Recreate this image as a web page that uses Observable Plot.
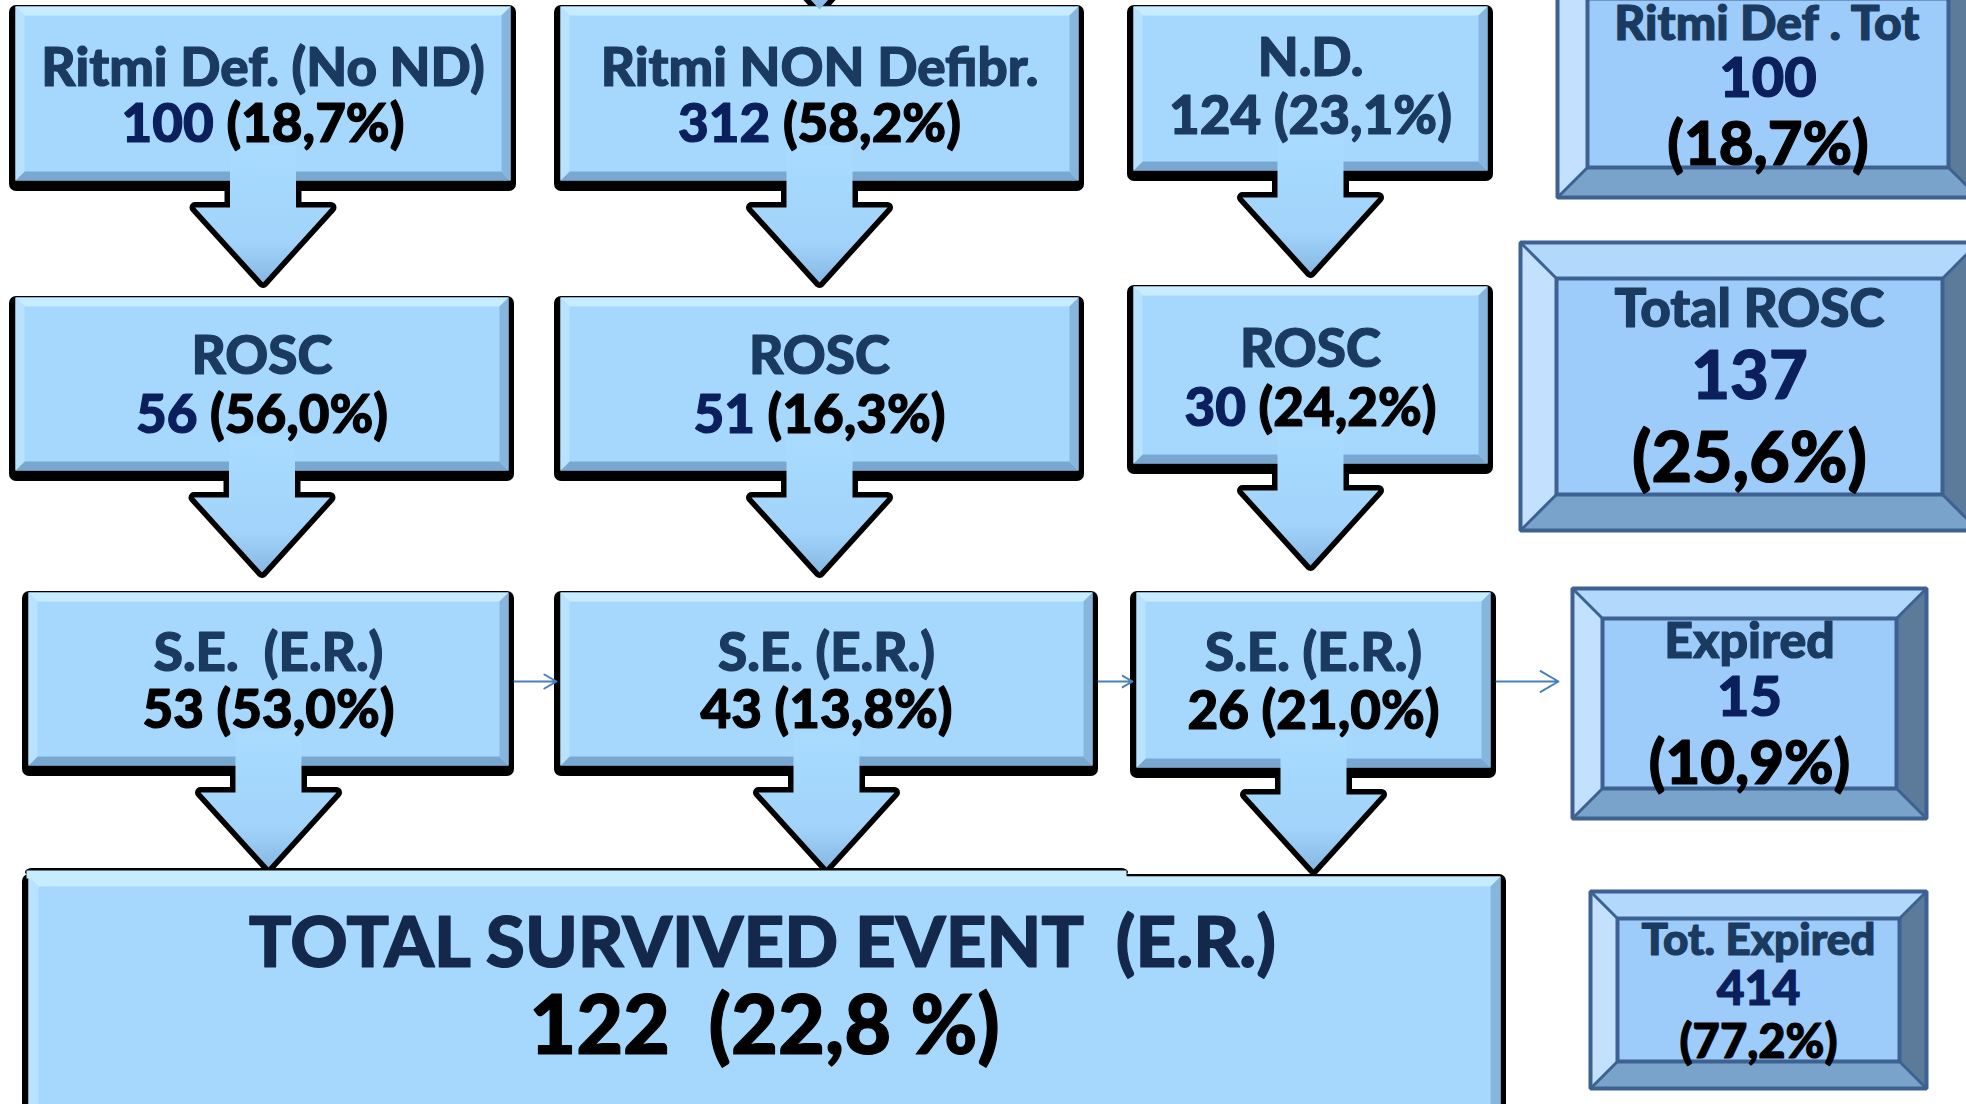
<!DOCTYPE html>
<html><head><meta charset="utf-8">
<script src="https://cdn.jsdelivr.net/npm/d3@7"></script>
<script src="https://cdn.jsdelivr.net/npm/@observablehq/plot@0.6"></script>
<style>html,body{margin:0;padding:0;background:#fff;overflow:hidden}</style>
</head><body><div id="chart"></div>
<script>
// ---------------- DATA ----------------
const groupLabels = ["Ritmi Def. (No ND)", "Ritmi NON Defibr.", "N.D."];
const groupCounts = [100, 312, 124];
const groupPcts = ["(18,7%)", "(58,2%)", "(23,1%)"];
const roscLabels = ["ROSC", "ROSC", "ROSC"];
const roscCounts = [56, 51, 30];
const roscPcts = ["(56,0%)", "(16,3%)", "(24,2%)"];
const seLabels = ["S.E.  (E.R.)", "S.E. (E.R.)", "S.E. (E.R.)"];
const seCounts = [53, 43, 26];
const sePcts = ["(53,0%)", "(13,8%)", "(21,0%)"];
const summaryLabels = ["Ritmi Def . Tot", "Total ROSC", "Expired", "Tot. Expired"];
const summaryCounts = [100, 137, 15, 414];
const summaryPcts = ["(18,7%)", "(25,6%)", "(10,9%)", "(77,2%)"];
const totalLabel = "TOTAL SURVIVED EVENT  (E.R.)";
const totalCount = 122;
const totalPct = "(22,8 %)";

// ---------------- LAYOUT & STYLE ----------------
const W = 1966, H = 1104;
const FONT = "Lato";
const WEIGHT = 900;
const LABEL = "#1b3a60", NUM = "#0a1f5c", BLACK = "#000000";
const boxLayout = [ // [x1, x2, y1, y2] light face of each flow box, rows x columns
  [[15, 510, 6, 180], [560, 1078, 6, 180], [1133, 1487, 6, 170]],
  [[15, 508, 297, 470], [560, 1078, 297, 470], [1133, 1487, 286, 463]],
  [[28, 508, 592, 765], [560, 1092, 592, 765], [1136, 1490, 592, 767]]
];
const totalLayout = [28, 1500, 876, 1130];
const summaryLayout = [ // [x1, x2, y1, y2, bevel]
  [1557, 1978, -32, 197, 30],
  [1520, 1978, 242, 530, 36],
  [1572, 1926, 588, 818, 30],
  [1590, 1926, 891, 1088, 27]
];
const lineY = { // vertical centers of text lines
  flow: [[[69, 125], [69, 125], [59, 117]], [[357, 416], [357, 416], [350, 409]], [[654, 711], [654, 711], [654, 712]]],
  summary: [[24, 79, 145], [310, 377, 459], [641, 698, 764], [940, 989, 1042]],
  total: [944, 1028]
};
const sizes = {flow: 53, summary: [[48, 56, 60], [53, 67, 70], [50, 56, 60], [44, 48, 47]], total: [71, 81]};

// ---------------- helpers ----------------
const ctx = document.createElement("canvas").getContext("2d");
function measure(s, size) { ctx.font = `${WEIGHT} ${size}px ${FONT}`; return ctx.measureText(s).width; }
const texts = [];
function addLine(parts, cx, cy, size) {
  const gap = measure(" ", size);
  const widths = parts.map(p => measure(p.t, size));
  const total = d3.sum(widths) + d3.sum(parts.slice(1), p => (p.gap ?? 1) * gap);
  let x = cx - total / 2;
  parts.forEach((p, i) => {
    if (i > 0) x += (p.gap ?? 1) * gap;
    texts.push({text: p.t, x, y: cy, size, color: p.c});
    x += widths[i];
  });
}

const polys = []; // {id, x, y, color}
function poly(id, pts, color) { pts.forEach(([x, y]) => polys.push({id, x, y, color})); }
function bevel(id, x1, x2, y1, y2, b, cols) {
  poly(id + "c", [[x1, y1], [x2, y1], [x2, y2], [x1, y2]], cols.c);
  poly(id + "t", [[x1, y1], [x2, y1], [x2 - b, y1 + b], [x1 + b, y1 + b]], cols.t);
  poly(id + "b", [[x1, y2], [x2, y2], [x2 - b, y2 - b], [x1 + b, y2 - b]], cols.b);
  poly(id + "l", [[x1, y1], [x1 + b, y1 + b], [x1 + b, y2 - b], [x1, y2]], cols.l);
  poly(id + "r", [[x2, y1], [x2 - b, y1 + b], [x2 - b, y2 - b], [x2, y2]], cols.r);
}
const flowCols = {c: "#a6d8fd", t: "#c8ecff", b: "#78a8d2", l: "#b9e2fe", r: "#86b6de"};
const sumCols = {c: "#9dccfa", t: "#b2d8fc", b: "#7aa3cb", l: "#c3e1fe", r: "#5c7b9b"};

// flow boxes
const shadows = [];
const flowLabels = [groupLabels, roscLabels, seLabels];
const flowCounts = [groupCounts, roscCounts, seCounts];
const flowPcts = [groupPcts, roscPcts, sePcts];
boxLayout.forEach((row, r) => row.forEach(([x1, x2, y1, y2], c) => {
  shadows.push({x1: x1 - 6, x2: x2 + 6, y1: y1 - 1, y2: y2 + 11});
  bevel(`f${r}${c}`, x1, x2, y1, y2, 9, flowCols);
  const cx = (x1 + x2) / 2;
  const [ly1, ly2] = lineY.flow[r][c];
  addLine([{t: flowLabels[r][c], c: LABEL}], cx, ly1, sizes.flow);
  const numColor = r === 2 ? BLACK : (r === 0 && c === 2 ? LABEL : NUM);
  const pctColor = r === 0 && c === 2 ? LABEL : BLACK;
  addLine([{t: String(flowCounts[r][c]), c: numColor}, {t: flowPcts[r][c], c: pctColor}], cx, ly2, sizes.flow);
}));
{
  const [x1, x2, y1, y2] = totalLayout;
  shadows.push({x1: x1 - 6, x2: x2 + 6, y1: y1 - 2, y2: y2 + 11});
  shadows.push({x1: x1 - 3, x2: 1128, y1: y1 - 8, y2: y1});
  bevel("tot", x1, x2, y1, y2, 10, flowCols);
  poly("totstrip", [[x1 - 2, y1 - 6], [1126, y1 - 6], [1126, y1 + 2], [x1 - 2, y1 + 2]], "#c8ecff");
  const cx = (x1 + x2) / 2;
  addLine([{t: totalLabel, c: "#13284a"}], cx, lineY.total[0], sizes.total[0]);
  addLine([{t: String(totalCount), c: BLACK}, {t: totalPct, c: BLACK, gap: 2}], cx, lineY.total[1], sizes.total[1]);
}
// summary (bevelled) boxes
const frames = [];
summaryLayout.forEach(([x1, x2, y1, y2, b], i) => {
  bevel(`s${i}`, x1, x2, y1, y2, b, sumCols);
  frames.push({x1, x2, y1, y2, id: "o" + i});
  frames.push({x1: x1 + b, x2: x2 - b, y1: y1 + b, y2: y2 - b, id: "i" + i});
  const cx = (x1 + x2) / 2;
  const [a, bb, cc] = lineY.summary[i];
  addLine([{t: summaryLabels[i], c: LABEL}], cx, a, sizes.summary[i][0]);
  addLine([{t: String(summaryCounts[i]), c: NUM}], cx, bb, sizes.summary[i][1]);
  addLine([{t: summaryPcts[i], c: BLACK}], cx, cc, sizes.summary[i][2]);
});
const frameLines = [];
frames.forEach(f => frameLines.push(
  {id: f.id, x: f.x1, y: f.y1}, {id: f.id, x: f.x2, y: f.y1}, {id: f.id, x: f.x2, y: f.y2}, {id: f.id, x: f.x1, y: f.y2}));
const diag = [];
summaryLayout.forEach(([x1, x2, y1, y2, b]) => {
  [[x1, y1, 1, 1], [x2, y1, -1, 1], [x2, y2, -1, -1], [x1, y2, 1, -1]].forEach(([x, y, sx, sy]) =>
    diag.push({x1: x, y1: y, x2: x + sx * b, y2: y + sy * b}));
});

// block arrows: from each flow box down to the next
const arrowPts = [];
function blockArrow(id, cx, stemTop, headTop) {
  const sw = 33, hw = 68, hh = 75;
  [[cx - sw, stemTop], [cx + sw, stemTop], [cx + sw, headTop], [cx + hw, headTop], [cx, headTop + hh], [cx - hw, headTop], [cx - sw, headTop]]
    .forEach(([x, y]) => arrowPts.push({id, x, y}));
}
boxLayout.forEach((row, r) => row.forEach(([x1, x2, y1, y2], c) => {
  blockArrow(`a${r}${c}`, (x1 + x2) / 2, y2 - 35, y2 + 27);
}));
// incoming arrow from above into the middle column
{ const [x1, x2, y1] = boxLayout[0][1]; blockArrow("in", (x1 + x2) / 2, y1 - 150, y1 - 72); }

// thin connectors between survived-event boxes and "Expired"
const links = [];
const se = boxLayout[2];
const linkY = 681;
links.push({x1: se[0][1] + 6, x2: se[1][0] - 4, y: linkY});
links.push({x1: se[1][1] + 6, x2: se[2][0] - 4, y: linkY});
links.push({x1: se[2][1] + 6, x2: summaryLayout[2][0] - 14, y: linkY});

const defs = () => {
  const d = d3.create("svg:defs");
  const g = d.append("linearGradient").attr("id", "arrowGrad").attr("x1", 0).attr("y1", 0).attr("x2", 0).attr("y2", 1);
  g.append("stop").attr("offset", "0%").attr("stop-color", "#a8dbff");
  g.append("stop").attr("offset", "70%").attr("stop-color", "#a2d4fb");
  g.append("stop").attr("offset", "100%").attr("stop-color", "#86b8e4");
  return d.node();
};

const chart = Plot.plot({
  width: W, height: H, margin: 0,
  x: {domain: [0, W], range: [0, W], axis: null},
  y: {domain: [0, H], range: [0, H], axis: null},
  color: {type: "identity"},
  style: {background: "white", fontFamily: FONT},
  marks: [
    defs,
    Plot.rect(shadows, {x1: "x1", x2: "x2", y1: "y1", y2: "y2", fill: "black", rx: 7}),
    Plot.line(arrowPts, {x: "x", y: "y", z: "id", fill: "black", stroke: "black", strokeWidth: 11, strokeLinejoin: "round", curve: "linear-closed"}),
    Plot.line(polys, {x: "x", y: "y", z: "id", fill: "color", stroke: "none", curve: "linear-closed"}),
    Plot.line(frameLines, {x: "x", y: "y", z: "id", stroke: "#3d6190", strokeWidth: 4, strokeLinejoin: "miter", curve: "linear-closed"}),
    Plot.link(diag, {x1: "x1", y1: "y1", x2: "x2", y2: "y2", stroke: "#3d6190", strokeWidth: 3}),
    Plot.line(arrowPts, {x: "x", y: "y", z: "id", fill: "url(#arrowGrad)", stroke: "none", curve: "linear-closed"}),
    Plot.arrow(links, {x1: "x1", x2: "x2", y1: "y", y2: "y", stroke: "#4a7ebb", strokeWidth: 2, headLength: 16, bend: 0}),
    Plot.text(texts, {x: "x", y: "y", text: "text", fontSize: "size", fill: "color", stroke: "color", strokeWidth: 1.2, textAnchor: "start", lineAnchor: "middle", fontWeight: WEIGHT, fontFamily: FONT})
  ]
});
document.getElementById("chart").appendChild(chart);
</script>
</body></html>
